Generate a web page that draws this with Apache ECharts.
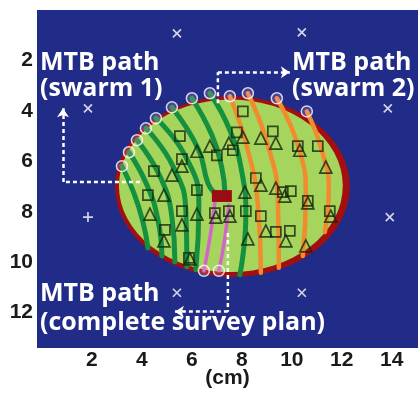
<!DOCTYPE html>
<html>
<head>
<meta charset="utf-8">
<style>
  html, body { margin: 0; padding: 0; background: #fff; }
  #chart { width: 418px; height: 403px; }
</style>
<script src="https://cdn.jsdelivr.net/npm/echarts@6/dist/echarts.min.js"></script>
</head>
<body>
<div id="chart"></div>
<script>
// tick labels (cm)
const xTicks = [2, 4, 6, 8, 10, 12, 14];
const yTicks = [2, 4, 6, 8, 10, 12];

// field ellipse: [cx, cy, rx, ry]
const fieldEdge = [7.62, 7.0, 4.7, 3.58];
const fieldInside = [7.56, 6.97, 4.48, 3.42];
// target cell: [x0, y0, x1, y1]
const target = [6.80, 7.14, 7.60, 7.61];

// swarm 1 paths (green), start point first
const swarm1Paths = [
    [[3.20, 6.19], [3.68, 7.26], [4.04, 8.40], [4.24, 9.43]],
    [[3.48, 5.64], [4.20, 6.94], [4.64, 8.32], [4.80, 9.75]],
    [[3.80, 5.16], [4.72, 6.59], [5.20, 8.21], [5.32, 9.98]],
    [[4.16, 4.69], [5.24, 6.19], [5.76, 8.01], [5.80, 10.18]],
    [[4.56, 4.29], [5.76, 5.83], [6.28, 7.73], [6.16, 10.30]],
    [[5.20, 3.86], [6.24, 5.48], [6.64, 6.86], [6.88, 7.22]],
    [[6.00, 3.50], [6.80, 4.96], [7.20, 6.27], [7.32, 7.22]],
    [[6.72, 3.30], [7.52, 4.77], [8.00, 6.43], [8.16, 8.13], [7.92, 10.50]]
];
// swarm 2 paths (orange)
const swarm2Paths = [
    [[7.52, 3.42], [8.24, 5.56], [8.64, 7.73], [8.76, 10.42]],
    [[8.24, 3.30], [9.04, 5.36], [9.44, 7.53], [9.48, 10.22]],
    [[9.40, 3.50], [10.24, 5.36], [10.56, 7.34], [10.44, 9.75]],
    [[10.60, 4.02], [11.20, 5.56], [11.48, 7.14], [11.32, 8.80]]
];
// complete survey plan paths (pink)
const surveyPaths = [
    [[6.48, 10.34], [6.72, 9.04], [6.92, 7.61]],
    [[7.08, 10.34], [7.32, 9.04], [7.48, 7.73]]
];

const squares = [
    [5.52, 5.00], [5.60, 5.91], [4.48, 6.39], [4.24, 7.34], [6.20, 7.14],
    [5.60, 7.97], [4.92, 8.72], [5.88, 9.83], [7.00, 5.76], [7.80, 4.85],
    [8.04, 4.02], [9.24, 4.81], [10.24, 5.40], [11.04, 5.40], [7.64, 5.56],
    [8.56, 6.66], [9.96, 7.18], [8.16, 7.97], [8.76, 8.17], [9.36, 8.80],
    [9.92, 8.76], [10.64, 7.57], [11.52, 7.97], [6.92, 8.05], [7.48, 7.97],
    [9.64, 7.22]
];
const triangles = [
    [5.60, 6.19], [6.20, 5.60], [6.72, 5.40], [7.48, 5.28], [5.20, 6.55],
    [4.88, 7.34], [4.32, 8.09], [6.20, 8.09], [5.60, 8.52], [4.88, 9.15],
    [8.04, 5.04], [8.76, 5.08], [9.36, 5.28], [10.32, 5.56], [11.36, 6.23],
    [8.76, 6.94], [9.36, 7.06], [9.72, 7.38], [8.12, 7.22], [8.24, 9.07],
    [8.96, 8.76], [9.76, 9.15], [10.64, 7.65], [11.56, 8.17], [10.56, 9.35],
    [6.96, 8.21], [7.52, 8.17], [5.92, 9.87]
];
const crosses = [
    [5.40, 0.93], [10.40, 0.89], [1.84, 3.90], [13.84, 3.90],
    [13.92, 8.21], [5.40, 11.21], [10.40, 11.21]
];
const plusMarks = [[1.84, 8.21]];

// dotted arrows, last point is the arrow tip
const arrows = [
    [[7.04, 3.70], [7.04, 2.47], [9.92, 2.47]],
    [[3.92, 6.82], [0.84, 6.82], [0.84, 3.90]],
    [[7.44, 8.84], [7.44, 11.96], [5.32, 11.96]]
];

const myChart = echarts.init(document.getElementById('chart'));

function ellipse(d, color, z) {
    return {
        type: 'custom',
        coordinateSystem: 'cartesian2d',
        silent: true,
        z: z,
        data: [d],
        renderItem: function (params, api) {
            const c = api.coord([api.value(0), api.value(1)]);
            const s = api.size([api.value(2), api.value(3)]);
            const rx = Math.abs(s[0]), ry = Math.abs(s[1]);
            return {
                type: 'circle',
                x: c[0],
                y: c[1],
                scaleY: ry / rx,
                shape: { cx: 0, cy: 0, r: rx },
                style: { fill: color }
            };
        }
    };
}

function path(points, color, width) {
    return {
        type: 'line',
        data: points,
        smooth: 0.5,
        symbol: 'none',
        silent: true,
        z: 3,
        lineStyle: { color: color, width: width, cap: 'round' }
    };
}

const series = [
    ellipse(fieldEdge, '#a30f0f', 1),
    ellipse(fieldInside, '#a5d55c', 2)
];
swarm1Paths.forEach(p => series.push(path(p, '#15903f', 5)));
swarm2Paths.forEach(p => series.push(path(p, '#f28a2e', 4.5)));
surveyPaths.forEach(p => series.push(path(p, '#d266c6', 3.5)));

series.push({
    type: 'custom',
    coordinateSystem: 'cartesian2d',
    silent: true,
    z: 4,
    data: [target],
    renderItem: function (params, api) {
        const p0 = api.coord([api.value(0), api.value(1)]);
        const p1 = api.coord([api.value(2), api.value(3)]);
        return {
            type: 'rect',
            shape: {
                x: Math.min(p0[0], p1[0]), y: Math.min(p0[1], p1[1]),
                width: Math.abs(p1[0] - p0[0]), height: Math.abs(p1[1] - p0[1])
            },
            style: { fill: '#9a0c14' }
        };
    }
});

const markStyle = { color: 'rgba(0,0,0,0)', borderColor: '#17250f', borderWidth: 1.7 };
series.push({
    type: 'scatter', data: squares, symbol: 'rect', symbolSize: 10,
    itemStyle: markStyle, z: 5, silent: true
});
series.push({
    type: 'scatter', data: triangles, symbol: 'triangle', symbolSize: 12,
    itemStyle: markStyle, z: 5, silent: true
});

// start rings of every path
const starts = swarm1Paths.concat(swarm2Paths, surveyPaths).map(p => p[0]);
series.push({
    type: 'scatter', data: starts, symbol: 'circle', symbolSize: 11,
    itemStyle: { color: 'rgba(235,170,220,0.25)', borderColor: '#ffffff', borderWidth: 1.5 },
    z: 6, silent: true
});

series.push({
    type: 'scatter', data: crosses, symbol: 'path://M0,0L10,10M10,0L0,10', symbolSize: 8,
    itemStyle: { color: 'none', borderColor: '#ffffff', borderWidth: 1.7 }, z: 6, silent: true
});
series.push({
    type: 'scatter', data: plusMarks, symbol: 'path://M5,0L5,10M0,5L10,5', symbolSize: 10,
    itemStyle: { color: 'none', borderColor: '#ffffff', borderWidth: 1.7 }, z: 6, silent: true
});

arrows.forEach(a => {
    series.push({
        type: 'line', data: a.slice(0, -1), symbol: 'none', silent: true, z: 7,
        lineStyle: { color: '#ffffff', width: 2.5, type: [4, 3] }
    });
});
series.push({
    type: 'lines',
    coordinateSystem: 'cartesian2d',
    silent: true,
    z: 7,
    symbol: ['none', 'arrow'],
    symbolSize: 9,
    lineStyle: { color: '#ffffff', width: 2.5, type: [4, 3], opacity: 1 },
    data: arrows.map(a => ({ coords: a.slice(-2) }))
});

const labelFont = { color: '#1a1a1a', fontSize: 21, fontWeight: 'bold', fontFamily: 'Liberation Sans' };
const textFont = 'bold 25px "Open Sans"';

const option = {
    animation: false,
    grid: {
        left: 37, right: 0, top: 10, bottom: 55,
        show: true, backgroundColor: '#212b88', borderWidth: 0
    },
    xAxis: {
        type: 'value',
        min: -0.2,
        max: 15.05,
        name: '(cm)',
        nameLocation: 'middle',
        nameGap: 20,
        nameMoveOverlap: false,
        nameTextStyle: labelFont,
        axisLine: { show: false },
        axisTick: { show: false },
        splitLine: { show: false },
        axisLabel: Object.assign({ customValues: xTicks, margin: 2 }, labelFont)
    },
    yAxis: {
        type: 'value',
        min: 0,
        max: 13.4,
        inverse: true,
        axisLine: { show: false },
        axisTick: { show: false },
        splitLine: { show: false },
        axisLabel: Object.assign({ customValues: yTicks, margin: 4 }, labelFont)
    },
    graphic: [
        { type: 'text', z: 100, style: { x: 40, y: 63, text: 'MTB path', fill: '#fff', font: textFont, verticalAlign: 'middle' } },
        { type: 'text', z: 100, style: { x: 40, y: 89, text: '(swarm 1)', fill: '#fff', font: textFont, verticalAlign: 'middle' } },
        { type: 'text', z: 100, style: { x: 292, y: 63, text: 'MTB path', fill: '#fff', font: textFont, verticalAlign: 'middle' } },
        { type: 'text', z: 100, style: { x: 292, y: 89, text: '(swarm 2)', fill: '#fff', font: textFont, verticalAlign: 'middle' } },
        { type: 'text', z: 100, style: { x: 40, y: 294, text: 'MTB path', fill: '#fff', font: textFont, verticalAlign: 'middle' } },
        { type: 'text', z: 100, style: { x: 40, y: 323, text: '(complete survey plan)', fill: '#fff', font: textFont, verticalAlign: 'middle' } }
    ],
    series: series
};

myChart.setOption(option);
window.addEventListener('resize', function () {
    myChart.resize();
});
</script>
</body>
</html>
